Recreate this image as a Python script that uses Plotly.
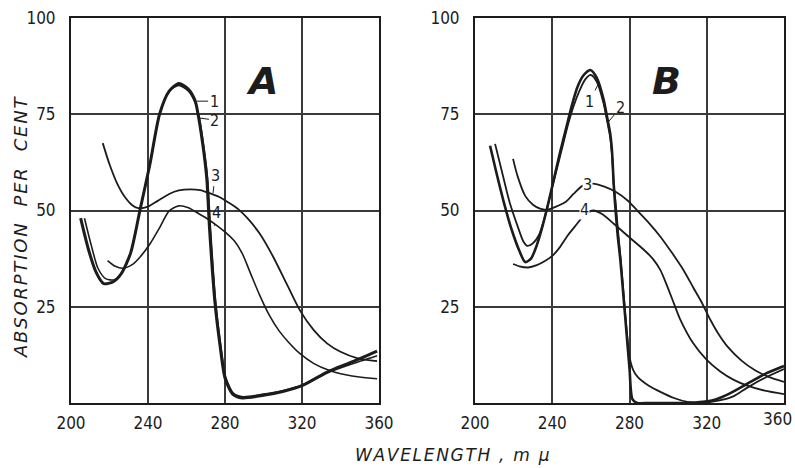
import plotly.graph_objects as go

# ---------------- data ----------------
# Panel A
a1_x = [205, 209, 213, 217, 222, 226, 231, 236, 241, 246, 251, 256, 261, 264.5, 266, 268.5, 270.5, 272, 274.8, 277.4, 280, 284, 289, 300, 310, 320, 334, 345, 359]
a1_y = [48, 40, 34, 31, 31.5, 33.5, 39, 50.5, 62, 75, 81, 83, 81.5, 78.5, 75, 67, 58.5, 45, 26, 15, 6.5, 2.3, 1.3, 2, 3, 4.5, 8.3, 10.5, 13.5]
a2_x = [207, 210.5, 214, 218, 222.5, 226.5, 231, 236, 241, 246, 251, 256, 261, 264.5, 266.5, 269, 271, 272.5, 275.2, 277.8, 280.5, 284.5, 289.5, 300, 310, 320, 334, 345, 359]
a2_y = [48, 41, 35, 32.3, 32, 34, 39, 50.5, 62, 75, 81, 82.5, 81, 78, 74.5, 66.5, 58, 45, 26, 15, 6.5, 2.5, 1.6, 2.3, 3.2, 4.6, 8, 10, 12.3]
a3_x = [216.5, 220, 224, 228, 232, 235, 240, 245, 251, 256, 262, 267, 272, 277, 282, 287, 292, 298, 305, 312, 319, 326, 333, 340, 349, 359]
a3_y = [67.5, 62, 57, 53.5, 51.3, 50.6, 51, 52.5, 54.3, 55.2, 55.5, 55.3, 54.5, 53.5, 52, 50.3, 47.8, 44, 38, 31, 24, 19, 15.5, 13.3, 11.6, 10.9]
a4_x = [219, 223, 227, 232, 236, 241, 246, 251, 256, 261, 266, 271, 276, 281, 285, 289, 293, 298, 303, 308, 313, 319, 326, 334, 346, 359]
a4_y = [37, 35.5, 35, 36, 38, 41.3, 45.5, 49.9, 51.2, 50.7, 49.3, 47.8, 46, 44, 42, 38.8, 34, 28, 22.8, 18.8, 15.8, 12.8, 10.3, 8.5, 7, 6.3]

# Panel B
b1_x = [207.8, 211, 215, 219, 223, 226, 229, 232, 235, 238, 241, 244, 247, 250, 253, 256, 259.7, 263, 266.5, 268.5, 270, 271, 271.8, 272.5, 273.8, 275.3, 277, 278.5, 280, 281.5, 284, 290, 300, 310, 318, 325, 332, 341, 350, 360]
b1_y = [66.8, 60, 52, 45, 39.5, 36.6, 37.5, 41, 46, 52, 58.5, 65, 71, 77, 82, 85, 86.5, 84.5, 79, 74, 70, 65, 57, 52, 44, 37, 27, 18, 9, 1, 0, 0, 0, 0, 0.3, 1, 2.5, 5, 7.5, 9.6]
b2_x = [210.4, 214, 218, 222, 225, 227, 230, 233, 236, 239, 242, 245, 248, 251, 254, 257, 260, 263, 266.5, 268.5, 270, 271, 271.8, 272.8, 274, 275.5, 277, 278.5, 280, 282, 284.2, 290, 296, 303, 310, 318, 326, 334, 341, 350, 360]
b2_y = [67.3, 60, 52, 46, 42, 40.8, 41.5, 43.5, 48, 54, 60, 66, 72, 77, 81, 84, 85.2, 83.5, 78, 73, 69, 64, 57, 52, 45, 37, 28, 19, 12, 8.5, 6.8, 4.5, 2.9, 1.3, 0.3, 0.1, 0.6, 1.8, 4, 6.5, 8.8]
b3_x = [219.7, 222, 226, 230, 234, 237.4, 242, 246.8, 251, 255.6, 261, 267, 273, 279, 284, 290, 296, 302, 308, 313, 317, 322, 326, 331, 338, 345, 352, 360]
b3_y = [63.4, 59, 53.8, 51.5, 50.4, 50.2, 51, 52.2, 54.3, 56.4, 57, 56.2, 54.8, 52.6, 50, 46.8, 43.2, 39, 34.5, 30, 26.5, 21.5, 18, 14.5, 11, 8.5, 6.8, 5.5]
b4_x = [219.7, 223, 227.5, 232, 236, 240, 244, 248, 252, 257, 261.3, 266, 272, 280, 287, 292, 296, 299, 302.5, 306, 313, 320, 327, 334, 341, 350, 360]
b4_y = [36.1, 35.5, 35.2, 35.8, 36.8, 38.2, 40.5, 43.5, 46, 49, 50, 49, 46.5, 43, 40, 37.5, 34.5, 31, 26.5, 22, 15.5, 11.2, 8.2, 6, 4.5, 3.2, 2.3]

x_ticks = [200, 240, 280, 320, 360]
y_ticks = [25, 50, 75, 100]
y_tick_text = ["25", "50", "75", "100"]
panel_names = ["A", "B"]
y_title = "ABSORPTION  PER  CENT"
x_title = "WAVELENGTH , m μ"

# ---------------- figure ----------------
INK = "#1c1c1c"
FONT = "Liberation Sans Narrow, DejaVu Sans Condensed, sans-serif"
TICK_FONT = dict(family=FONT, size=17, color=INK)

fig = go.Figure()

def add(x, y, xa, ya, w):
    fig.add_trace(go.Scatter(x=x, y=y, xaxis=xa, yaxis=ya, mode="lines",
                             line=dict(color=INK, width=w, shape="spline", smoothing=0.7),
                             hoverinfo="skip", showlegend=False))

add(a1_x, a1_y, "x", "y", 3.0)
add(a2_x, a2_y, "x", "y", 1.6)
add(a3_x, a3_y, "x", "y", 1.8)
add(a4_x, a4_y, "x", "y", 1.6)
add(b1_x, b1_y, "x2", "y2", 2.6)
add(b2_x, b2_y, "x2", "y2", 1.8)
add(b3_x, b3_y, "x2", "y2", 1.8)
add(b4_x, b4_y, "x2", "y2", 1.8)

W, H = 795, 468
def dom(p0, p1, total):
    return [p0 / total, p1 / total]

xax = dict(range=[200, 360], tickvals=x_ticks, ticktext=[str(v) for v in x_ticks],
           showgrid=True, gridcolor="#3a3a3a", gridwidth=1.5,
           showline=True, linecolor=INK, linewidth=2, mirror=True,
           ticks="", zeroline=False, tickfont=TICK_FONT,
           ticklabelstandoff=4, fixedrange=True, automargin=False)
yax = dict(range=[0, 100], tickvals=y_ticks, ticktext=y_tick_text,
           showgrid=True, gridcolor="#3a3a3a", gridwidth=1.5,
           showline=True, linecolor=INK, linewidth=2, mirror=True,
           ticks="", zeroline=False, tickfont=TICK_FONT,
           ticklabelstandoff=10, fixedrange=True, automargin=False)

# right panel: last tick label is drawn as an annotation so it stays inside the page
xax_b = dict(xax, ticktext=[str(v) for v in x_ticks[:-1]] + [""])

ydom = [(H - 403) / H, (H - 18) / H]
fig.update_layout(
    width=W, height=H, margin=dict(l=0, r=0, t=0, b=0, autoexpand=False),
    paper_bgcolor="white", plot_bgcolor="white",
    xaxis=dict(xax, domain=dom(71, 379, W), anchor="y"),
    yaxis=dict(yax, domain=ydom, anchor="x"),
    xaxis2=dict(xax_b, domain=dom(475, 784, W), anchor="y2"),
    yaxis2=dict(yax, domain=ydom, anchor="x2"),
)

ann = []
ann.append(dict(xref="x2", yref="y2", x=x_ticks[-1], y=0, text=str(x_ticks[-1]), showarrow=False,
                xanchor="right", yanchor="top", xshift=10, yshift=-4, font=TICK_FONT))
lab_font = dict(family=FONT, size=16, color=INK)
# curve labels, panel A
ann.append(dict(xref="x", yref="y", x=265.5, y=78.4, text="1", showarrow=True, arrowhead=0,
                arrowwidth=1, arrowcolor=INK, ax=17, ay=0, font=lab_font))
ann.append(dict(xref="x", yref="y", x=267, y=74, text="2", showarrow=True, arrowhead=0,
                arrowwidth=1, arrowcolor=INK, ax=15, ay=2, font=lab_font))
ann.append(dict(xref="x", yref="y", x=273.8, y=54.5, text="3", showarrow=True, arrowhead=0,
                arrowwidth=1, arrowcolor=INK, ax=2, ay=-18, font=lab_font))
ann.append(dict(xref="x", yref="y", x=274.6, y=46, text="4", showarrow=True, arrowhead=0,
                arrowwidth=1, arrowcolor=INK, ax=2, ay=-13, font=lab_font))
# curve labels, panel B
ann.append(dict(xref="x2", yref="y2", x=264, y=83, text="1", showarrow=True, arrowhead=0,
                arrowwidth=1, arrowcolor=INK, ax=-9, ay=18, font=lab_font))
ann.append(dict(xref="x2", yref="y2", x=269, y=73, text="2", showarrow=True, arrowhead=0,
                arrowwidth=1, arrowcolor=INK, ax=12, ay=-14, font=lab_font))
ann.append(dict(xref="x2", yref="y2", x=258.5, y=56.8, text="3", showarrow=False,
                bgcolor="white", borderpad=0, font=lab_font))
ann.append(dict(xref="x2", yref="y2", x=256.5, y=50.2, text="4", showarrow=False,
                bgcolor="white", borderpad=0, font=lab_font))
# panel letters
big = dict(family="DejaVu Sans, sans-serif", size=38, color=INK)
ann.append(dict(xref="x", yref="y", x=299, y=83.6, text="<b><i>" + panel_names[0] + "</i></b>",
                showarrow=False, font=big))
ann.append(dict(xref="x2", yref="y2", x=299, y=83.6, text="<b><i>" + panel_names[1] + "</i></b>",
                showarrow=False, font=big))
# axis titles (hair spaces widen the lettering like the original)
def spaced(s):
    return "\u200a".join(list(s))
ttl = dict(family="DejaVu Sans, sans-serif", size=18, color=INK)
ann.append(dict(xref="paper", yref="paper", x=20 / W, y=1 - 227 / H, xanchor="center", yanchor="middle",
                text="<i>" + spaced(y_title) + "</i>", textangle=-90, showarrow=False, font=ttl))
ann.append(dict(xref="paper", yref="paper", x=452 / W, y=1 - 455 / H, xanchor="center", yanchor="middle",
                text="<i>" + spaced(x_title) + "</i>", showarrow=False, font=dict(ttl, size=17)))
fig.update_layout(annotations=ann)

fig.write_html("out.html", config={"displayModeBar": False},
               post_script="document.body.style.margin='0px';document.body.style.overflow='hidden';")
